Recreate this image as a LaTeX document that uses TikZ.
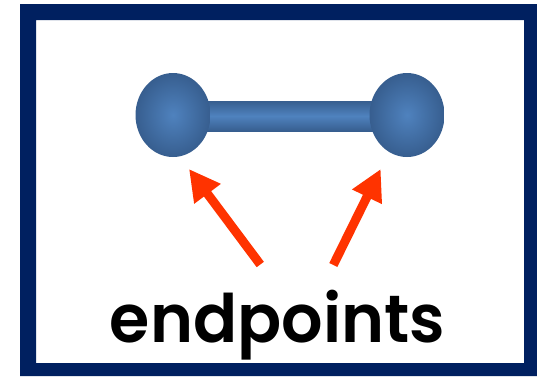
\documentclass[tikz,border=0pt]{standalone}
\usepackage{fontspec}
\usepackage{graphicx}
\setmainfont{Poppins}[BoldFont={Poppins SemiBold}]
\usetikzlibrary{arrows.meta,shapes.geometric}

\definecolor{navy}{HTML}{002060}
\definecolor{ballhi}{HTML}{4F82BE}
\definecolor{balllo}{HTML}{375E8F}
\definecolor{arrowred}{HTML}{FF3300}

\tikzset{
  ball/.style={ellipse, minimum width=75pt, minimum height=84pt, inner sep=0pt,
    shading=radial, inner color=ballhi, outer color=balllo},
  pointer/.style={draw=arrowred, line width=9pt,
    -{Triangle[length=31pt,width=31pt,fill=arrowred]}},
  caption/.style={inner sep=0pt, font=\bfseries}
}

\begin{document}
\begin{tikzpicture}[x=1pt,y=-1pt]
  \useasboundingbox (0,0) rectangle (537,376);

  % frame
  \fill[navy,even odd rule] (20,4) rectangle (537,376) (36,20) rectangle (524,363);

  % dumbbell: bar, then the two end balls
  \shade[top color=balllo, bottom color=balllo, middle color=ballhi]
    (195,101) rectangle (385,131);
  \node[ball] (lball) at (173,115) {};
  \node[ball] (rball) at (407,115) {};

  % label
  \node[caption, anchor=south] (word) at (277.5,360)
    {\resizebox*{335pt}{70pt}{endpoints}};

  % arrows pointing at the ends
  \coordinate (ltail) at (260.3,264.5);
  \coordinate (ltip) at (189,169);
  \coordinate (rtail) at (333.3,265);
  \coordinate (rtip) at (380.7,169);
  \draw[pointer] (ltail) -- (ltip);
  \draw[pointer] (rtail) -- (rtip);
\end{tikzpicture}
\end{document}
